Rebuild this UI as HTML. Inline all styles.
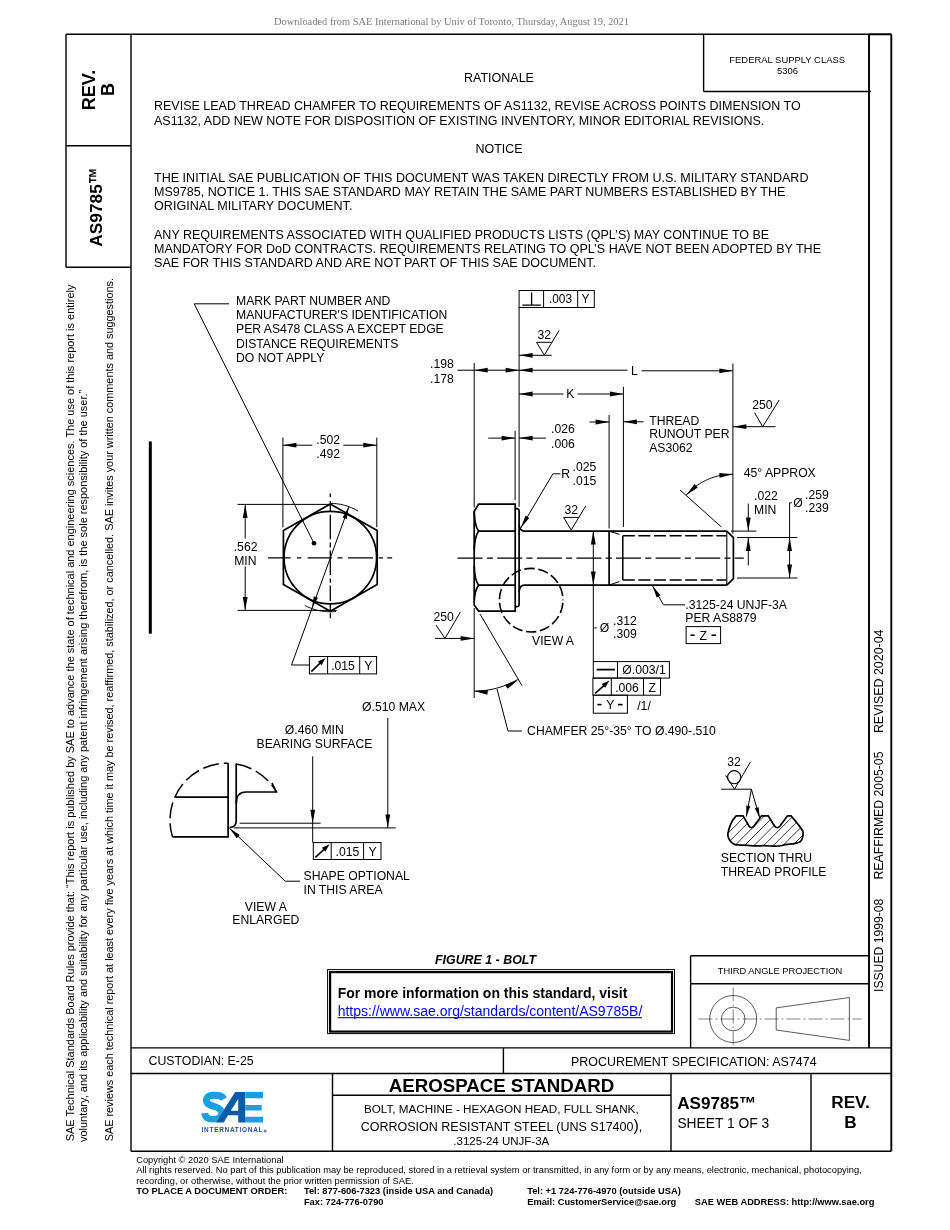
<!DOCTYPE html>
<html><head><meta charset="utf-8"><title>AS9785B</title>
<style>
html,body{margin:0;padding:0;background:#fff;}
body{width:950px;height:1230px;overflow:hidden;position:relative;}
svg{position:absolute;left:0;top:0;will-change:transform;}
text{font-family:"Liberation Sans",sans-serif;fill:#000;stroke:none;}
.ser{font-family:"Liberation Serif",serif;}
.f{fill:none;stroke:#000;stroke-width:1.4;}
.th{fill:none;stroke:#000;stroke-width:1;}
.md{fill:none;stroke:#000;stroke-width:1.5;}
.tk{fill:none;stroke:#000;stroke-width:1.9;}
.b{font-size:12.5px;}
.d{font-size:12.2px;}
</style></head><body>
<svg width="950" height="1230" viewBox="0 0 950 1230">
<!-- header -->
<text class="ser" x="274" y="25" font-size="10.4" textLength="355" lengthAdjust="spacingAndGlyphs" style="fill:#7b7b7b">Downloaded from SAE International by Univ of Toronto, Thursday, August 19, 2021</text>

<!-- FRAME -->
<g id="frame">
<path class="f" d="M66,34.3H869 M66,34.3V267.3 M131,34.3V1151.3 M66,145.8H131 M66,267.3H131"/>
<path class="tk" d="M869,34.3H891.3 M869,34.3V1048 M891.3,34.3V1151.3"/>
<path class="f" d="M703.6,34.3V91.5 M703.6,91.5H871"/>
<path class="f" d="M131,1047.9H891 M131,1073.5H891 M503.4,1047.9V1073.5 M332.5,1073.5V1151.3 M332.5,1095.3H670.8 M671,1073.5V1151.3 M811,1073.5V1151.3 M131,1151.3H891.3"/>
<path class="f" d="M690.6,955.8V1048 M690.6,955.8H869 M690.6,983.8H869"/>
</g>

<!-- left strip text -->
<text x="0" y="0" font-size="18" font-weight="bold" transform="translate(94.6,110.2) rotate(-90)">REV.</text>
<text x="0" y="0" font-size="18" font-weight="bold" transform="translate(114.2,96.0) rotate(-90)">B</text>
<text x="0" y="0" font-size="17.3" font-weight="bold" transform="translate(102.4,246.7) rotate(-90)">AS9785</text>
<text x="0" y="0" font-size="100" font-weight="bold" transform="translate(102.4,246.6) rotate(-90) translate(62.6,3.0) scale(0.167,0.229)">™</text>
<text font-size="10.97" transform="translate(74,1141.3) rotate(-90)" textLength="856.7" lengthAdjust="spacingAndGlyphs">SAE Technical Standards Board Rules provide that: “This report is published by SAE to advance the state of technical and engineering sciences. The use of this report is entirely</text>
<text font-size="10.97" transform="translate(86.9,1142) rotate(-90)">voluntary, and its applicability and suitability for any particular use, including any patent infringement arising therefrom, is the sole responsibility of the user.”</text>
<text font-size="10.9" transform="translate(112.9,1141.3) rotate(-90)" textLength="863.3" lengthAdjust="spacingAndGlyphs">SAE reviews each technical report at least every five years at which time it may be revised, reaffirmed, stabilized, or cancelled. SAE invites your written comments and suggestions.</text>

<!-- right strip text -->
<text font-size="12.3" transform="translate(883.3,992) rotate(-90)" textLength="93.4" lengthAdjust="spacingAndGlyphs">ISSUED 1999-08</text>
<text font-size="12.3" transform="translate(883.3,879.5) rotate(-90)" textLength="128" lengthAdjust="spacingAndGlyphs">REAFFIRMED 2005-05</text>
<text font-size="12.3" transform="translate(883.3,733.1) rotate(-90)" textLength="103.6" lengthAdjust="spacingAndGlyphs">REVISED 2020-04</text>

<!-- federal -->
<text x="787.2" y="62.9" font-size="9.45" text-anchor="middle">FEDERAL SUPPLY CLASS</text>
<text x="787.5" y="74" font-size="9.45" text-anchor="middle">5306</text>

<!-- body text -->
<text class="b" x="499" y="82.1" text-anchor="middle">RATIONALE</text>
<text class="b" x="154" y="109.9">REVISE LEAD THREAD CHAMFER TO REQUIREMENTS OF AS1132, REVISE ACROSS POINTS DIMENSION TO</text>
<text class="b" x="154" y="124.9">AS1132, ADD NEW NOTE FOR DISPOSITION OF EXISTING INVENTORY, MINOR EDITORIAL REVISIONS.</text>
<text class="b" x="499" y="153.1" text-anchor="middle">NOTICE</text>
<text class="b" x="154" y="182" textLength="654.5" lengthAdjust="spacingAndGlyphs">THE INITIAL SAE PUBLICATION OF THIS DOCUMENT WAS TAKEN DIRECTLY FROM U.S. MILITARY STANDARD</text>
<text class="b" x="154" y="195.9" textLength="631.3" lengthAdjust="spacingAndGlyphs">MS9785, NOTICE 1. THIS SAE STANDARD MAY RETAIN THE SAME PART NUMBERS ESTABLISHED BY THE</text>
<text class="b" x="154" y="209.8" textLength="198.4" lengthAdjust="spacingAndGlyphs">ORIGINAL MILITARY DOCUMENT.</text>
<text class="b" x="154" y="238.8" textLength="615.2" lengthAdjust="spacingAndGlyphs">ANY REQUIREMENTS ASSOCIATED WITH QUALIFIED PRODUCTS LISTS (QPL’S) MAY CONTINUE TO BE</text>
<text class="b" x="154" y="252.8" textLength="667" lengthAdjust="spacingAndGlyphs">MANDATORY FOR DoD CONTRACTS. REQUIREMENTS RELATING TO QPL’S HAVE NOT BEEN ADOPTED BY THE</text>
<text class="b" x="154" y="266.8" textLength="442" lengthAdjust="spacingAndGlyphs">SAE FOR THIS STANDARD AND ARE NOT PART OF THIS SAE DOCUMENT.</text>

<!-- DRAWING -->
<g id="drawing" fill="none" stroke="#000">
<path d="M330.30,504.00 L377.20,530.60 L377.20,584.60 L330.30,611.20 L283.40,584.60 L283.40,530.60Z" stroke-width="1.7" stroke-linejoin="miter"/>
<circle cx="330.3" cy="557.6" r="46.3" stroke-width="1.7"/>
<path d="M268.10,557.80H290.60 M297.00,557.80H301.20 M307.60,557.80H332.00 M337.50,557.80H342.40 M348.10,557.80H373.00 M378.70,557.80H383.00 M387.20,557.80H392.20" stroke-width="1.3" />
<path d="M330.30,493.40V497.30 M330.30,501.00V511.40 M330.30,514.70V539.20 M330.30,542.50V547.40 M330.30,550.60V575.10 M330.30,578.40V582.80 M330.30,585.50V601.30 M330.30,604.00V610.00 M330.30,613.30V618.20" stroke-width="1.3" />
<circle cx="314" cy="543.3" r="2.3" fill="#000" stroke="none"/>
<path d="M229.00,303.80 L194.20,303.80 L314.00,543.30" stroke-width="1.0" />
<line x1="282.90" y1="437.60" x2="282.90" y2="527.40" stroke-width="1.0" />
<line x1="376.80" y1="437.60" x2="376.80" y2="527.20" stroke-width="1.0" />
<line x1="282.90" y1="445.20" x2="312.30" y2="445.20" stroke-width="1.0" />
<line x1="343.30" y1="445.20" x2="376.80" y2="445.20" stroke-width="1.0" />
<path d="M282.90,445.20 L296.40,442.80 L296.40,447.60Z" fill="#000" stroke="none"/>
<path d="M376.80,445.20 L363.30,447.60 L363.30,442.80Z" fill="#000" stroke="none"/>
<text x="328.20" y="443.70" font-size="12.2" text-anchor="middle" >.502</text>
<text x="328.20" y="457.80" font-size="12.2" text-anchor="middle" >.492</text>
<line x1="237.60" y1="504.40" x2="329.80" y2="504.40" stroke-width="1.0" />
<line x1="237.60" y1="610.40" x2="336.80" y2="610.40" stroke-width="1.0" />
<line x1="245.20" y1="504.40" x2="245.20" y2="538.60" stroke-width="1.0" />
<line x1="245.20" y1="566.40" x2="245.20" y2="610.40" stroke-width="1.0" />
<path d="M245.20,504.40 L247.60,517.90 L242.80,517.90Z" fill="#000" stroke="none"/>
<path d="M245.20,610.40 L242.80,596.90 L247.60,596.90Z" fill="#000" stroke="none"/>
<text x="245.60" y="550.60" font-size="12.2" text-anchor="middle" >.562</text>
<text x="245.40" y="564.50" font-size="12.2" text-anchor="middle" >MIN</text>
<path d="M330.30,503.40 L331.77,503.42 L333.23,503.48 L334.69,503.58 L336.15,503.72 L337.61,503.90 L339.06,504.11 L340.50,504.37 L341.94,504.66 L343.37,505.00 L344.78,505.37 L346.19,505.78 L347.59,506.23 L348.97,506.72 L350.34,507.24 L351.70,507.80 L353.03,508.40 L354.36,509.03 L355.66,509.70 L356.95,510.40 L358.22,511.14" stroke-width="1.0" />
<path d="M304.85,605.46 L306.29,606.19 L307.74,606.88 L309.21,607.53 L310.70,608.13 L312.21,608.69 L313.73,609.21 L315.27,609.67 L316.82,610.10 L318.38,610.47 L319.96,610.80 L321.54,611.09 L323.13,611.32 L324.73,611.51 L326.33,611.65 L327.94,611.75 L329.54,611.79 L331.15,611.79 L332.76,611.74 L334.36,611.65 L335.97,611.50" stroke-width="1.0" />
<path d="M309.40,665.00 L291.50,665.00 L348.80,506.87" stroke-width="1.0" />
<path d="M348.80,506.87 L346.76,518.89 L342.62,517.39Z" fill="#000" stroke="none"/>
<path d="M311.80,608.33 L313.84,596.31 L317.98,597.81Z" fill="#000" stroke="none"/>
<rect x="309.40" y="656.50" width="67.20" height="17.40" stroke-width="1"/>
<line x1="327.60" y1="656.50" x2="327.60" y2="673.90" stroke-width="1" />
<line x1="359.70" y1="656.50" x2="359.70" y2="673.90" stroke-width="1" />
<line x1="311.30" y1="671.60" x2="320.53" y2="662.69" stroke-width="1.6" />
<path d="M325.50,657.90 L321.55,665.33 L317.94,661.58Z" fill="#000" stroke="none"/>
<text x="343.00" y="670.00" font-size="12.2" text-anchor="middle" >.015</text>
<text x="368.40" y="670.00" font-size="12.2" text-anchor="middle" >Y</text>
<text x="236.00" y="304.80" font-size="12.2" >MARK PART NUMBER AND</text>
<text x="236.00" y="319.10" font-size="12.2" >MANUFACTURER'S IDENTIFICATION</text>
<text x="236.00" y="333.40" font-size="12.2" >PER AS478 CLASS A EXCEPT EDGE</text>
<text x="236.00" y="347.70" font-size="12.2" >DISTANCE REQUIREMENTS</text>
<text x="236.00" y="362.00" font-size="12.2" >DO NOT APPLY</text>
<path d="M478.6,504.2 H515.2 V611.1 H478.6 L474.2,605 V511.2 Z" stroke-width="1.7" stroke-linejoin="miter"/>
<line x1="478.60" y1="531.10" x2="515.20" y2="531.10" stroke-width="1.7" />
<line x1="478.60" y1="585.20" x2="515.20" y2="585.20" stroke-width="1.7" />
<path d="M474.2,511.2 Q474.6,526 478.6,531.1 Q474.6,537 474.2,550.3" stroke-width="1.7" />
<path d="M474.2,566 Q474.6,580 478.6,585.2 Q474.6,590 474.2,602.2" stroke-width="1.7" />
<path d="M515.2,508.6 H517 Q519.1,508.8 519.1,511 V604.5 Q519.1,606.6 517,606.6 H515.2" stroke-width="1.7" />
<path d="M519.1,524.5 Q519.5,531.1 524.6,531.1 H609.1" stroke-width="1.7" />
<path d="M519.1,591.5 Q519.5,585.1 524.6,585.1 H609.1" stroke-width="1.7" />
<line x1="609.10" y1="531.10" x2="726.80" y2="531.10" stroke-width="1.7" />
<line x1="609.10" y1="585.10" x2="726.80" y2="585.10" stroke-width="1.7" />
<line x1="609.10" y1="531.10" x2="609.10" y2="585.10" stroke-width="1.7" />
<path d="M609.1,531.2 L619.5,534.4 M609.1,585 L619.5,581.6" stroke-width="1.0" />
<path d="M726.8,531.1 L733.4,537.6 V578.7 L726.8,585.1" stroke-width="1.7" />
<line x1="726.80" y1="531.10" x2="726.80" y2="585.10" stroke-width="1.1" />
<path d="M622.8,535.8 H726" stroke-width="1.5" stroke-dasharray="12,3.6" stroke-dashoffset="0"/>
<path d="M622.8,580 H726" stroke-width="1.5" stroke-dasharray="12,3.6"/>
<line x1="622.80" y1="535.80" x2="622.80" y2="580.00" stroke-width="1.5" />
<path d="M457.60,558.20H482.60 M486.90,558.20H492.90 M497.20,558.20H522.20 M526.50,558.20H532.50 M536.80,558.20H561.80 M566.10,558.20H572.10 M576.40,558.20H601.40 M605.70,558.20H611.70 M616.00,558.20H641.00 M645.30,558.20H651.30 M655.60,558.20H680.60 M684.90,558.20H690.90 M695.20,558.20H720.20 M724.50,558.20H730.50 M734.80,558.20H743.80" stroke-width="1.3" />
<circle cx="531.2" cy="600.2" r="31.8" stroke-width="1.6" stroke-dasharray="10.4,3.6" stroke-dashoffset="11.25"/>
<text x="553.00" y="644.60" font-size="12.2" text-anchor="middle" >VIEW A</text>
<line x1="519.10" y1="307.50" x2="519.10" y2="506.80" stroke-width="1.0" />
<line x1="474.20" y1="363.00" x2="474.20" y2="507.50" stroke-width="1.0" />
<line x1="474.20" y1="608.00" x2="474.20" y2="698.00" stroke-width="1.0" />
<line x1="515.10" y1="430.80" x2="515.10" y2="500.20" stroke-width="1.0" />
<line x1="609.10" y1="415.00" x2="609.10" y2="528.50" stroke-width="1.0" />
<line x1="623.40" y1="386.90" x2="623.40" y2="527.00" stroke-width="1.0" />
<line x1="732.90" y1="363.50" x2="732.90" y2="533.50" stroke-width="1.0" />
<rect x="519.10" y="290.50" width="75.20" height="17.00" stroke-width="1"/>
<line x1="543.60" y1="290.50" x2="543.60" y2="307.50" stroke-width="1" />
<line x1="577.70" y1="290.50" x2="577.70" y2="307.50" stroke-width="1" />
<path d="M522.3,305.2 H540.8 M531.6,292.4 V305.2" stroke-width="1.3" />
<text x="560.50" y="303.20" font-size="11.9" text-anchor="middle" >.003</text>
<text x="585.40" y="303.20" font-size="11.9" text-anchor="middle" >Y</text>
<text x="544.20" y="339.20" font-size="12.2" text-anchor="middle" >32</text>
<path d="M536.5,342.3 H551.7 M536.5,342.3 L544.3,355.1 L559.1,330.5" stroke-width="1.0" />
<line x1="519.10" y1="355.30" x2="551.70" y2="355.30" stroke-width="1.0" />
<path d="M519.10,355.30 L532.60,352.90 L532.60,357.70Z" fill="#000" stroke="none"/>
<line x1="457.30" y1="370.20" x2="627.50" y2="370.20" stroke-width="1.0" />
<line x1="641.50" y1="370.80" x2="732.90" y2="370.80" stroke-width="1.0" />
<path d="M474.20,370.20 L487.70,367.80 L487.70,372.60Z" fill="#000" stroke="none"/>
<path d="M519.10,370.20 L505.60,372.60 L505.60,367.80Z" fill="#000" stroke="none"/>
<path d="M519.10,370.20 L532.60,367.80 L532.60,372.60Z" fill="#000" stroke="none"/>
<path d="M732.90,370.80 L719.40,373.20 L719.40,368.40Z" fill="#000" stroke="none"/>
<text x="453.80" y="368.30" font-size="12.2" text-anchor="end" >.198</text>
<text x="453.80" y="382.60" font-size="12.2" text-anchor="end" >.178</text>
<text x="634.40" y="375.00" font-size="12.2" text-anchor="middle" >L</text>
<line x1="519.10" y1="394.00" x2="563.50" y2="394.00" stroke-width="1.0" />
<line x1="577.50" y1="394.00" x2="623.40" y2="394.00" stroke-width="1.0" />
<path d="M519.10,394.00 L532.60,391.60 L532.60,396.40Z" fill="#000" stroke="none"/>
<path d="M623.40,394.00 L609.90,396.40 L609.90,391.60Z" fill="#000" stroke="none"/>
<text x="570.30" y="398.30" font-size="12.2" text-anchor="middle" >K</text>
<line x1="488.20" y1="438.10" x2="515.10" y2="438.10" stroke-width="1.0" />
<path d="M515.10,438.10 L501.60,440.50 L501.60,435.70Z" fill="#000" stroke="none"/>
<line x1="519.10" y1="438.10" x2="546.00" y2="438.10" stroke-width="1.0" />
<path d="M519.10,438.10 L532.60,435.70 L532.60,440.50Z" fill="#000" stroke="none"/>
<text x="551.00" y="433.40" font-size="12.2" >.026</text>
<text x="551.00" y="447.50" font-size="12.2" >.006</text>
<line x1="589.50" y1="422.00" x2="609.10" y2="422.00" stroke-width="1.0" />
<path d="M609.10,422.00 L595.60,424.40 L595.60,419.60Z" fill="#000" stroke="none"/>
<line x1="623.40" y1="421.80" x2="643.60" y2="421.80" stroke-width="1.0" />
<path d="M623.40,421.80 L636.90,419.40 L636.90,424.20Z" fill="#000" stroke="none"/>
<text x="649.20" y="424.70" font-size="12.2" >THREAD</text>
<text x="649.20" y="438.40" font-size="12.2" >RUNOUT PER</text>
<text x="649.20" y="452.10" font-size="12.2" >AS3062</text>
<text x="762.30" y="409.00" font-size="12.2" text-anchor="middle" >250</text>
<path d="M754.5,412.6 L762.7,426.7 L779.2,400" stroke-width="1.0" />
<line x1="732.90" y1="426.70" x2="775.50" y2="426.70" stroke-width="1.0" />
<path d="M732.90,426.70 L746.40,424.30 L746.40,429.10Z" fill="#000" stroke="none"/>
<text x="743.80" y="476.80" font-size="12.2" >45° APPROX</text>
<line x1="680.10" y1="490.00" x2="721.40" y2="527.00" stroke-width="1.0" />
<path d="M686.27,494.88 L687.77,493.29 L689.32,491.74 L690.92,490.26 L692.58,488.82 L694.28,487.45 L696.03,486.14 L697.83,484.89 L699.67,483.70 L701.54,482.57 L703.46,481.52 L705.41,480.53 L707.39,479.60 L709.41,478.75 L711.45,477.97 L713.52,477.26 L715.62,476.62 L717.73,476.06 L719.86,475.57 L722.01,475.15 L724.17,474.81 L726.35,474.54 L728.53,474.35 L730.71,474.24 L732.90,474.20" stroke-width="1.0" />
<path d="M732.90,474.20 L719.63,477.67 L719.25,472.88Z" fill="#000" stroke="none"/>
<path d="M686.40,495.00 L694.49,483.93 L697.81,487.39Z" fill="#000" stroke="none"/>
<line x1="731.00" y1="531.10" x2="756.40" y2="531.10" stroke-width="1.0" />
<line x1="737.00" y1="537.50" x2="797.40" y2="537.50" stroke-width="1.0" />
<line x1="737.00" y1="578.00" x2="797.40" y2="578.00" stroke-width="1.0" />
<line x1="748.30" y1="503.60" x2="748.30" y2="531.10" stroke-width="1.0" />
<path d="M748.30,531.10 L745.90,517.60 L750.70,517.60Z" fill="#000" stroke="none"/>
<line x1="748.30" y1="537.50" x2="748.30" y2="565.50" stroke-width="1.0" />
<path d="M748.30,537.50 L750.70,551.00 L745.90,551.00Z" fill="#000" stroke="none"/>
<text x="754.00" y="499.90" font-size="12.2" >.022</text>
<text x="754.00" y="514.20" font-size="12.2" >MIN</text>
<path d="M791.8,502.8 H789.6 V578" stroke-width="1.0" />
<path d="M789.60,537.50 L792.00,551.00 L787.20,551.00Z" fill="#000" stroke="none"/>
<path d="M789.60,578.00 L787.20,564.50 L792.00,564.50Z" fill="#000" stroke="none"/>
<text x="793.20" y="507.30" font-size="12.2" >Ø</text>
<text x="805.00" y="499.20" font-size="12.2" >.259</text>
<text x="805.00" y="512.10" font-size="12.2" >.239</text>
<path d="M560.5,473.8 H552.9 L520.7,528.1" stroke-width="1.0" />
<path d="M520.70,528.10 L525.44,515.80 L529.22,518.04Z" fill="#000" stroke="none"/>
<text x="561.20" y="477.60" font-size="12.2" >R</text>
<text x="572.50" y="471.30" font-size="12.2" >.025</text>
<text x="572.50" y="484.50" font-size="12.2" >.015</text>
<text x="571.20" y="514.20" font-size="12.2" text-anchor="middle" >32</text>
<path d="M563.6,517.4 H578.8 M563.6,517.4 L571.2,530 L585.7,506" stroke-width="1.0" />
<line x1="593.30" y1="531.10" x2="593.30" y2="661.60" stroke-width="1.0" />
<path d="M593.30,531.10 L595.70,544.60 L590.90,544.60Z" fill="#000" stroke="none"/>
<path d="M593.30,585.10 L590.90,571.60 L595.70,571.60Z" fill="#000" stroke="none"/>
<line x1="594.20" y1="627.90" x2="596.70" y2="627.90" stroke-width="1.0" />
<text x="599.80" y="632.00" font-size="12.2" >Ø</text>
<text x="613.00" y="624.70" font-size="12.2" >.312</text>
<text x="613.00" y="638.30" font-size="12.2" >.309</text>
<rect x="593.30" y="661.60" width="76.10" height="16.50" stroke-width="1"/>
<line x1="617.50" y1="661.60" x2="617.50" y2="678.10" stroke-width="1" />
<line x1="596.70" y1="669.60" x2="615.00" y2="669.60" stroke-width="1.8" />
<text x="644.00" y="674.30" font-size="12.2" text-anchor="middle" >Ø.003/1</text>
<rect x="592.90" y="678.10" width="67.60" height="17.10" stroke-width="1"/>
<line x1="611.30" y1="678.10" x2="611.30" y2="695.20" stroke-width="1" />
<line x1="643.50" y1="678.10" x2="643.50" y2="695.20" stroke-width="1" />
<line x1="595.20" y1="693.30" x2="604.43" y2="685.04" stroke-width="1.6" />
<path d="M609.40,680.60 L605.17,687.87 L601.70,684.00Z" fill="#000" stroke="none"/>
<text x="627.00" y="692.00" font-size="12.2" text-anchor="middle" >.006</text>
<text x="652.20" y="692.00" font-size="12.2" text-anchor="middle" >Z</text>
<rect x="593.3" y="695.2" width="34.1" height="18" stroke-width="1"/>
<line x1="597.40" y1="704.60" x2="601.60" y2="704.60" stroke-width="1.6" />
<line x1="618.00" y1="704.60" x2="622.60" y2="704.60" stroke-width="1.6" />
<text x="610.40" y="709.40" font-size="12.2" text-anchor="middle" >Y</text>
<text x="644.00" y="709.70" font-size="12.2" text-anchor="middle" >/1/</text>
<path d="M685.00,604.80 L663.40,604.80 L652.60,585.90" stroke-width="1.0" />
<path d="M652.60,585.90 L660.46,595.23 L656.64,597.41Z" fill="#000" stroke="none"/>
<text x="685.30" y="608.70" font-size="12.2" >.3125-24 UNJF-3A</text>
<text x="685.30" y="621.80" font-size="12.2" >PER AS8879</text>
<rect x="686.1" y="626.6" width="34.5" height="17" stroke-width="1"/>
<line x1="690.50" y1="635.20" x2="694.70" y2="635.20" stroke-width="1.6" />
<line x1="711.50" y1="635.20" x2="715.90" y2="635.20" stroke-width="1.6" />
<text x="703.30" y="640.00" font-size="12.2" text-anchor="middle" >Z</text>
<text x="443.60" y="621.00" font-size="12.2" text-anchor="middle" >250</text>
<path d="M436,625 L445,638.4 L460.4,612" stroke-width="1.0" />
<line x1="435.00" y1="638.40" x2="474.20" y2="638.40" stroke-width="1.0" />
<path d="M474.20,638.40 L460.70,640.80 L460.70,636.00Z" fill="#000" stroke="none"/>
<line x1="480.00" y1="614.00" x2="522.00" y2="685.60" stroke-width="1.0" />
<path d="M474.20,691.10 L476.48,691.07 L478.75,690.98 L481.02,690.83 L483.29,690.63 L485.55,690.36 L487.81,690.03 L490.05,689.65 L492.29,689.21 L494.51,688.71 L496.71,688.15 L498.91,687.53 L501.08,686.86 L503.24,686.13 L505.38,685.34 L507.49,684.50 L509.59,683.61 L511.66,682.66 L513.70,681.65 L515.72,680.60 L517.71,679.49" stroke-width="1.0" />
<path d="M474.20,691.00 L487.87,689.96 L487.39,694.73Z" fill="#000" stroke="none"/>
<path d="M518.00,680.00 L507.49,688.81 L505.10,684.65Z" fill="#000" stroke="none"/>
<path d="M497.00,689.00 L508.00,731.00 L522.00,731.00" stroke-width="1.0" />
<text x="527.10" y="735.00" font-size="12.2" >CHAMFER 25°-35° TO Ø.490-.510</text>
<path d="M228.1,763 V836.9 H172.5" stroke-width="1.7" />
<line x1="175.50" y1="797.20" x2="228.10" y2="797.20" stroke-width="1.7" />
<path d="M236.2,763.6 V821 Q236.2,827.3 229.5,827.6" stroke-width="1.7" />
<path d="M236.2,804 Q236.2,792 246,792 H276.4 L272,783" stroke-width="1.7" />
<path d="M172.50,836.90 A56.93,56.93 0 0 1 228.10,763.20" stroke-width="1.5" stroke-dasharray="16,5" stroke-dashoffset="2"/>
<path d="M236.13,763.94 A56.93,56.93 0 0 1 276.40,792.00" stroke-width="1.5" stroke-dasharray="16,5" stroke-dashoffset="0"/>
<line x1="239.60" y1="823.20" x2="320.60" y2="823.20" stroke-width="1.0" />
<line x1="233.70" y1="827.90" x2="395.80" y2="827.90" stroke-width="1.0" />
<line x1="312.70" y1="756.30" x2="312.70" y2="842.60" stroke-width="1.0" />
<path d="M312.70,823.20 L310.30,809.70 L315.10,809.70Z" fill="#000" stroke="none"/>
<line x1="387.80" y1="718.00" x2="387.80" y2="827.90" stroke-width="1.0" />
<path d="M387.80,827.90 L385.40,814.40 L390.20,814.40Z" fill="#000" stroke="none"/>
<text x="393.60" y="711.20" font-size="12.2" text-anchor="middle" >Ø.510 MAX</text>
<text x="314.30" y="733.60" font-size="12.2" text-anchor="middle" >Ø.460 MIN</text>
<text x="314.50" y="747.50" font-size="12.2" text-anchor="middle" >BEARING SURFACE</text>
<rect x="313.30" y="842.60" width="67.70" height="16.90" stroke-width="1"/>
<line x1="331.20" y1="842.60" x2="331.20" y2="859.50" stroke-width="1" />
<line x1="363.60" y1="842.60" x2="363.60" y2="859.50" stroke-width="1" />
<line x1="315.40" y1="857.40" x2="324.56" y2="848.88" stroke-width="1.6" />
<path d="M329.50,844.30 L325.41,851.65 L321.87,847.84Z" fill="#000" stroke="none"/>
<text x="347.40" y="855.70" font-size="12.2" text-anchor="middle" >.015</text>
<text x="372.60" y="855.70" font-size="12.2" text-anchor="middle" >Y</text>
<path d="M300.00,881.20 L285.30,881.20 L229.50,828.30" stroke-width="1.0" />
<path d="M229.50,828.30 L239.72,834.96 L236.69,838.15Z" fill="#000" stroke="none"/>
<text x="303.50" y="879.50" font-size="12.2" >SHAPE OPTIONAL</text>
<text x="303.50" y="893.60" font-size="12.2" >IN THIS AREA</text>
<text x="265.80" y="911.00" font-size="12.2" text-anchor="middle" >VIEW A</text>
<text x="265.80" y="924.30" font-size="12.2" text-anchor="middle" >ENLARGED</text>
<text x="734.10" y="766.10" font-size="12.2" text-anchor="middle" >32</text>
<circle cx="734.2" cy="777.2" r="6.6" stroke-width="1.1"/>
<path d="M725.6,775.4 L734.5,789.2 L750.5,761.9" stroke-width="1.0" />
<line x1="721.00" y1="789.20" x2="751.40" y2="789.20" stroke-width="1.0" />
<line x1="751.40" y1="789.20" x2="746.30" y2="816.60" stroke-width="1.0" />
<path d="M746.30,816.60 L746.35,805.42 L750.28,806.15Z" fill="#000" stroke="none"/>
<line x1="751.40" y1="789.20" x2="759.80" y2="818.30" stroke-width="1.0" />
<path d="M759.80,818.30 L754.83,808.29 L758.67,807.18Z" fill="#000" stroke="none"/>
<clipPath id="thc"><path d="M735.4,844.8 C729,842 727,836 728.2,832 C729.5,826 732,820 736.2,815.8 H743 L749,826 Q751.4,829.5 754,826 L761.5,815.8 H768.2 L774.5,826 Q777,829.5 780,826 L787.5,815.8 H791 C796,822 800,826 802.7,831 C804,835 802,840 800.5,841.5 C795,845 788,843.5 782,845.5 C775,847.5 768,845 760,845.8 C752,846.5 745,844.5 735.4,844.8 Z"/></clipPath>
<path d="M692.0,850 L732.0,810 M701.6,850 L741.6,810 M711.2,850 L751.2,810 M720.8,850 L760.8,810 M730.4,850 L770.4,810 M740.0,850 L780.0,810 M749.6,850 L789.6,810 M759.2,850 L799.2,810 M768.8,850 L808.8,810 M778.4,850 L818.4,810 M788.0,850 L828.0,810 M797.6,850 L837.6,810 M807.2,850 L847.2,810 M816.8,850 L856.8,810" stroke-width="0.8" clip-path="url(#thc)"/>
<path d="M735.4,844.8 C729,842 727,836 728.2,832 C729.5,826 732,820 736.2,815.8 H743 L749,826 Q751.4,829.5 754,826 L761.5,815.8 H768.2 L774.5,826 Q777,829.5 780,826 L787.5,815.8 H791 C796,822 800,826 802.7,831 C804,835 802,840 800.5,841.5 C795,845 788,843.5 782,845.5 C775,847.5 768,845 760,845.8 C752,846.5 745,844.5 735.4,844.8 Z" stroke-width="1.7" />
<text x="720.80" y="861.60" font-size="12.2" >SECTION THRU</text>
<text x="720.80" y="875.60" font-size="12.2" >THREAD PROFILE</text>
<rect x="148.8" y="441.4" width="3.0" height="192.3" fill="#000" stroke="none"/>
</g><!--enddrawing-->

<!-- FIGURE caption + info box -->
<text x="435" y="964" font-size="12.4" font-weight="bold" font-style="italic" textLength="101" lengthAdjust="spacingAndGlyphs">FIGURE 1 - BOLT</text>
<rect x="327.6" y="969.6" width="346.9" height="64" fill="none" stroke="#000" stroke-width="1"/>
<rect x="330.1" y="972.1" width="341.9" height="59.5" fill="none" stroke="#000" stroke-width="2.2"/>
<text x="337.7" y="998" font-size="14" font-weight="bold" textLength="289.6" lengthAdjust="spacingAndGlyphs">For more information on this standard, visit</text>
<text x="337.7" y="1015.6" font-size="14" style="fill:#0000f0" textLength="304.6" lengthAdjust="spacingAndGlyphs">https://www.sae.org/standards/content/AS9785B/</text>
<path d="M337.8,1017.6H642" stroke="#23239a" stroke-width="1.1"/>

<!-- third angle -->
<text x="780" y="974.1" font-size="9.3" text-anchor="middle">THIRD ANGLE PROJECTION</text>
<g stroke="#000" fill="none" stroke-width="0.65">
<circle cx="733.2" cy="1019" r="23.5"/>
<circle cx="733.2" cy="1019" r="11.8"/>
<path d="M776.2,1007.9L849.4,997.5V1040.4L776.2,1030Z"/>
<path d="M698.5,1019H861.4 M733.2,987.4V1045.8" stroke-dasharray="14,3,2,3" stroke-width="0.5"/>
</g>

<!-- title block -->
<text x="148.6" y="1064.6" font-size="12.3">CUSTODIAN: E-25</text>
<text x="571" y="1066.1" font-size="12.45">PROCUREMENT SPECIFICATION: AS7474</text>
<text x="501.5" y="1092.3" font-size="18.7" font-weight="bold" text-anchor="middle">AEROSPACE STANDARD</text>
<text x="501.3" y="1113.1" font-size="11.7" text-anchor="middle">BOLT, MACHINE - HEXAGON HEAD, FULL SHANK,</text>
<text x="501.5" y="1130.6" font-size="12.5" text-anchor="middle">CORROSION RESISTANT STEEL (UNS S17400<tspan font-size="16">)</tspan>,</text>
<text x="501.3" y="1144.5" font-size="11.5" text-anchor="middle">.3125-24 UNJF-3A</text>
<text x="677.2" y="1108.8" font-size="17.1" font-weight="bold">AS9785<tspan font-size="17.3">™</tspan></text>
<text x="677.4" y="1127.6" font-size="13.8">SHEET 1 OF 3</text>
<text x="850.5" y="1108.3" font-size="17.2" font-weight="bold" text-anchor="middle">REV.</text>
<text x="850.5" y="1127.6" font-size="17.2" font-weight="bold" text-anchor="middle">B</text>

<!-- SAE logo -->
<g id="logo">
<defs><clipPath id="sclip"><path d="M195,1088 H238 L215.7,1122.6 H195 Z"/></clipPath></defs>
<path d="M224,1099 C221.5,1095 217.5,1095.2 213.5,1095.2 C208.5,1095.2 206.4,1097.5 206.4,1100.3 C206.4,1104.5 211,1105.5 214.5,1106.5 C219,1107.8 221.8,1110 221.8,1113.5 C221.8,1117.5 218,1119.4 213,1119.4 C208,1119.4 204.9,1117 204.8,1113.2" fill="none" stroke="#1b9fe2" stroke-width="6.9" clip-path="url(#sclip)"/>
<path d="M201.6,1113.2 H208" stroke="#1b9fe2" stroke-width="0" fill="none"/>
<path d="M215.7,1122.6 L235.2,1092.05 H245.2 V1122.6 H238.2 V1115.3 H228.0 L223.8,1122.6 Z M238.2,1099.05 V1110.8 H230.8 Z" fill="#0c5ba9" fill-rule="evenodd"/>
<path d="M245.2,1092.05 H263 V1098.3 H245.2 Z M245.2,1105 H261.7 V1110.5 H245.2 Z M245.2,1116.7 H263 V1122.6 H245.2 Z" fill="#1b9fe2"/>
<text x="201.6" y="1132.2" font-size="6.5" font-weight="bold" style="fill:#27508f" textLength="60.9" lengthAdjust="spacing">INTERNATIONAL</text>
<circle cx="265.2" cy="1131" r="1.5" fill="#6a86b0"/>
</g>

<!-- footer -->
<text x="136.2" y="1163" font-size="9.3">Copyright © 2020 SAE International</text>
<text x="136.2" y="1172.8" font-size="9.3">All rights reserved. No part of this publication may be reproduced, stored in a retrieval system or transmitted, in any form or by any means, electronic, mechanical, photocopying,</text>
<text x="136.2" y="1183.5" font-size="9.3">recording, or otherwise, without the prior written permission of SAE.</text>
<text x="136.3" y="1194.3" font-size="9.3" font-weight="bold">TO PLACE A DOCUMENT ORDER:</text>
<text x="303.9" y="1194.3" font-size="9.3" font-weight="bold">Tel: 877-606-7323 (inside USA and Canada)</text>
<text x="527.2" y="1194.3" font-size="9.3" font-weight="bold">Tel: +1 724-776-4970 (outside USA)</text>
<text x="303.9" y="1204.8" font-size="9.3" font-weight="bold">Fax: 724-776-0790</text>
<text x="527.2" y="1204.8" font-size="9.3" font-weight="bold">Email: CustomerService@sae.org</text>
<text x="694.8" y="1204.8" font-size="9.3" font-weight="bold">SAE WEB ADDRESS: http://www.sae.org</text>
</svg>
</body></html>
